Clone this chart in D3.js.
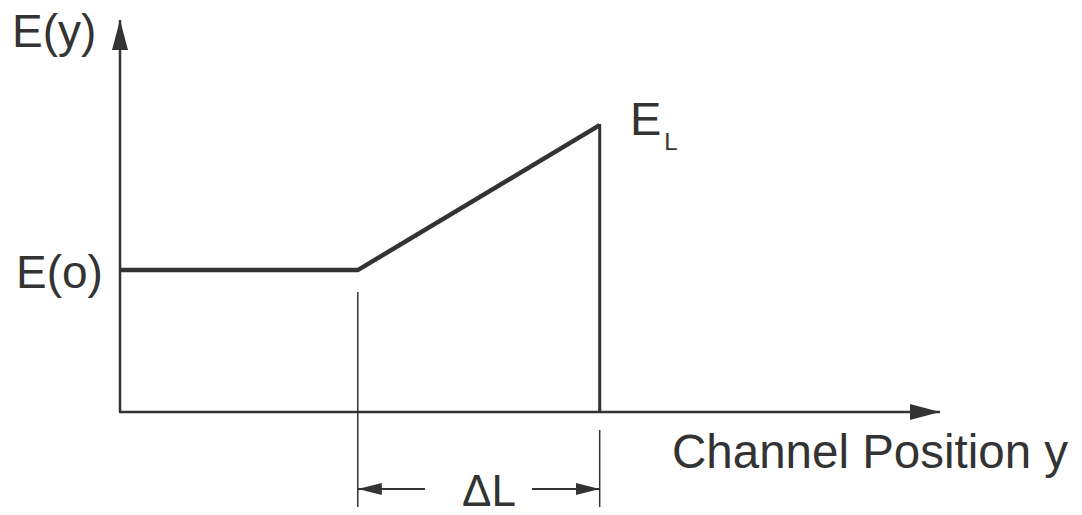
<!DOCTYPE html>
<html>
<head>
<meta charset="utf-8">
<script src="https://cdn.jsdelivr.net/npm/d3@7"></script>
<style>
  html, body { margin: 0; padding: 0; background: #fff; }
  svg { display: block; }
  text { font-family: "Liberation Sans", Arial, Helvetica, sans-serif; fill: #333; }
</style>
</head>
<body>
<svg id="chart" width="1082" height="515"></svg>
<script>
// Channel position (fraction of channel length) and field strength E(y)
const positions = [0, 0.29, 0.585];
const fieldValues = [36.2, 36.2, 73.2];
// Labels
const yAxisLabel = "E(y)";
const xAxisLabel = "Channel Position y";
const startLabel = "E(o)";
const endLabel = "E";
const endSub = "L";
const spanLabel = "\u0394L";

const ink = "#333";
const svg = d3.select("#chart");

const x = d3.scaleLinear().domain([0, 1]).range([120, 940]);
const y = d3.scaleLinear().domain([0, 100]).range([412, 20]);

const defs = svg.append("defs");
function arrowMarker(id, len, half) {
  defs.append("marker")
    .attr("id", id)
    .attr("viewBox", `0 ${-half} ${len} ${half * 2}`)
    .attr("refX", len).attr("refY", 0)
    .attr("markerUnits", "userSpaceOnUse")
    .attr("markerWidth", len).attr("markerHeight", half * 2)
    .attr("orient", "auto-start-reverse")
    .append("path")
    .attr("d", `M0,${-half}L${len},0L0,${half}Z`)
    .attr("fill", ink);
}
arrowMarker("axisHead", 30, 8);
arrowMarker("dimHead", 24, 6);

// Axes
svg.append("line")
  .attr("x1", x(0)).attr("y1", y(0))
  .attr("x2", x(0)).attr("y2", y(100))
  .attr("stroke", ink).attr("stroke-width", 2.5)
  .attr("marker-end", "url(#axisHead)");
svg.append("line")
  .attr("x1", x(0) - 1).attr("y1", y(0))
  .attr("x2", x(1)).attr("y2", y(0))
  .attr("stroke", ink).attr("stroke-width", 2.5)
  .attr("marker-end", "url(#axisHead)");

// Field profile
const line = d3.line().x((d, i) => x(positions[i])).y(d => y(d));
svg.append("path")
  .datum(fieldValues)
  .attr("d", line)
  .attr("fill", "none")
  .attr("stroke", ink)
  .attr("stroke-width", 4.5)
  .attr("stroke-linejoin", "miter");

// Drop from E_L to the axis
const last = positions.length - 1;
svg.append("line")
  .attr("x1", x(positions[last])).attr("y1", y(fieldValues[last]) - 1)
  .attr("x2", x(positions[last])).attr("y2", y(0))
  .attr("stroke", ink).attr("stroke-width", 3);

// Dimension lines for ΔL
const kneeX = x(positions[1]);
const endX = x(positions[last]);
svg.append("line")
  .attr("x1", kneeX).attr("y1", y(fieldValues[1]) + 22)
  .attr("x2", kneeX).attr("y2", 507)
  .attr("stroke", ink).attr("stroke-width", 1.5);
svg.append("line")
  .attr("x1", endX).attr("y1", 430)
  .attr("x2", endX).attr("y2", 507)
  .attr("stroke", ink).attr("stroke-width", 1.5);
const dimY = 489;
svg.append("line")
  .attr("x1", 425).attr("y1", dimY)
  .attr("x2", kneeX).attr("y2", dimY)
  .attr("stroke", ink).attr("stroke-width", 2)
  .attr("marker-end", "url(#dimHead)");
svg.append("line")
  .attr("x1", 532).attr("y1", dimY)
  .attr("x2", endX).attr("y2", dimY)
  .attr("stroke", ink).attr("stroke-width", 2)
  .attr("marker-end", "url(#dimHead)");

// Text
svg.append("text").attr("x", 12).attr("y", 47)
  .attr("font-size", 46).text(yAxisLabel);
svg.append("text").attr("x", 16).attr("y", 288)
  .attr("font-size", 46).text(startLabel);
const eL = svg.append("text").attr("x", 630).attr("y", 135).attr("font-size", 47);
eL.append("tspan").text(endLabel);
eL.append("tspan").attr("font-size", 24).attr("dx", 3).attr("dy", 15).text(endSub);
svg.append("text").attr("x", 672).attr("y", 468)
  .attr("font-size", 47.5).text(xAxisLabel);
svg.append("text").attr("x", 489).attr("y", 506)
  .attr("text-anchor", "middle").attr("font-size", 44).text(spanLabel);
</script>
</body>
</html>
